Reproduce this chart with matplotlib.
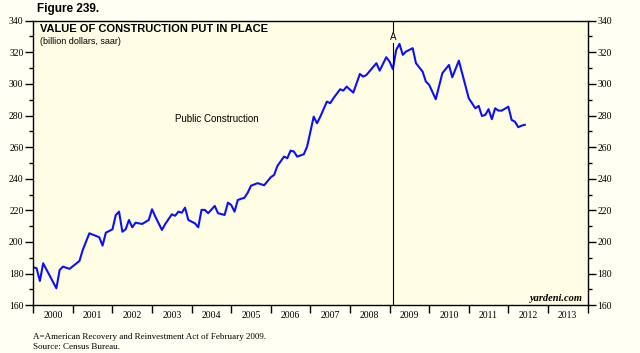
import numpy as np
import pandas as pd
import matplotlib
matplotlib.use("Agg")
from matplotlib import pyplot as plt
from matplotlib.ticker import MultipleLocator, FixedLocator, NullFormatter

# public construction put in place, billion dollars, saar (vertices)
months = ["2000-01", "2000-02", "2000-03", "2000-04", "2000-08", "2000-09", "2000-10", "2000-12",
          "2001-03", "2001-04", "2001-06", "2001-09", "2001-10", "2001-11",
          "2002-01", "2002-02", "2002-03", "2002-04", "2002-05", "2002-06", "2002-07", "2002-08",
          "2002-10", "2002-12",
          "2003-01", "2003-02", "2003-04", "2003-05", "2003-07", "2003-08", "2003-09", "2003-10",
          "2003-11", "2003-12",
          "2004-02", "2004-03", "2004-04", "2004-05", "2004-06", "2004-08", "2004-09", "2004-11",
          "2004-12",
          "2005-01", "2005-02", "2005-03", "2005-05", "2005-06", "2005-07", "2005-09", "2005-11",
          "2006-01", "2006-02", "2006-03", "2006-05", "2006-06", "2006-07", "2006-08", "2006-09",
          "2006-11", "2006-12",
          "2007-02", "2007-03", "2007-04", "2007-06", "2007-07", "2007-08", "2007-10", "2007-11",
          "2007-12",
          "2008-02", "2008-04", "2008-05", "2008-06", "2008-09", "2008-10", "2008-12",
          "2009-01", "2009-02", "2009-03", "2009-04", "2009-05", "2009-06", "2009-08", "2009-09",
          "2009-11", "2009-12",
          "2010-01", "2010-03", "2010-05", "2010-07", "2010-08", "2010-10",
          "2011-01", "2011-03", "2011-04", "2011-05", "2011-06", "2011-07", "2011-08", "2011-09",
          "2011-10", "2011-11",
          "2012-01", "2012-02", "2012-03", "2012-04", "2012-05", "2012-06"]
values = [184.0, 183.4, 175.3, 186.5, 170.7, 182.3, 184.4, 183.0,
          188.0, 195.0, 205.5, 203.0, 197.7, 205.9,
          208.0, 217.0, 219.2, 206.5, 208.0, 213.9, 209.3, 212.2,
          211.4, 213.9,
          220.7, 216.0, 207.6, 211.4, 217.5, 216.6, 219.2, 218.5,
          221.7, 213.9,
          211.8, 209.3, 220.3, 220.3, 218.2, 222.8, 218.2, 217.1,
          224.9,
          223.4, 219.2, 226.6, 228.0, 231.2, 235.6, 237.2, 235.9,
          241.0, 242.4, 248.1, 254.0, 253.0, 257.8, 257.2, 254.0,
          255.5, 260.3,
          279.3, 275.1, 279.3, 288.8, 287.8, 291.0, 296.6, 295.8,
          298.3,
          294.5, 306.3, 304.6, 305.7, 313.1, 308.4, 316.9,
          314.1, 309.3, 321.5, 325.3, 318.4, 320.5, 322.6, 313.1,
          307.8, 301.5,
          299.4, 290.3, 306.8, 312.0, 304.2, 314.7,
          290.9, 284.6, 286.1, 279.7, 280.4, 284.0, 277.7, 284.6,
          283.1, 283.1,
          285.6, 277.2, 276.1, 272.6, 273.6, 274.1]
assert len(months) == len(values)

years = list(range(2000, 2014))
event_month = "2009-02"  # A = American Recovery and Reinvestment Act

dates = pd.to_datetime(months)
t = dates.year + (dates.month - 1) / 12.0
ev = pd.Timestamp(event_month)
t_event = ev.year + (ev.month - 1) / 12.0

outer_bg = "#FFFFF3"
inner_bg = "#FFFDE3"
serif = "Liberation Serif"
sans = "Liberation Sans"

fig = plt.figure(figsize=(6.4, 3.53), dpi=100, facecolor=outer_bg)
ax = fig.add_axes([0.052, 0.1354, 0.866, 0.806])
ax.set_facecolor(inner_bg)

ax.plot(t, values, color="#0a10ff", lw=1.5, solid_joinstyle="round")

ax.set_xlim(years[0], years[-1] + 1)
ax.set_ylim(160, 340)

# y axis on both sides
ax.yaxis.set_major_locator(MultipleLocator(20))
ax.yaxis.set_minor_locator(MultipleLocator(10))
ax.tick_params(axis="y", which="both", direction="out", left=True, right=True,
               labelleft=True, labelright=True, labelsize=7, pad=1.5, colors="black")
ax.tick_params(axis="y", which="major", length=5.5, width=1)
ax.tick_params(axis="y", which="minor", length=3, width=1)
for lab in ax.get_yticklabels():
    lab.set_fontfamily(serif)

# x axis: ticks at year boundaries, labels centered in each year
ax.xaxis.set_major_locator(FixedLocator(years + [years[-1] + 1]))
ax.xaxis.set_major_formatter(NullFormatter())
ax.xaxis.set_minor_locator(FixedLocator([y + 0.5 for y in years]))
ax.set_xticklabels([str(y) for y in years], minor=True, fontfamily=serif, fontsize=7)
ax.tick_params(axis="x", which="major", direction="out", length=6, width=1)
ax.tick_params(axis="x", which="minor", length=0, pad=4)

for s in ax.spines.values():
    s.set_color("black")
    s.set_linewidth(1)

# event line
ax.axvline(t_event, color="black", lw=0.8)
ax.text(t_event, 329.5, "A", ha="center", va="center", fontsize=7, fontfamily=sans,
        bbox=dict(facecolor=inner_bg, edgecolor="none", pad=0.5))

ax.text(0.012, 0.971, "VALUE OF CONSTRUCTION PUT IN PLACE", transform=ax.transAxes,
        ha="left", va="center", fontsize=8, fontweight="bold", fontfamily=sans)
ax.text(0.012, 0.928, "(billion dollars, saar)", transform=ax.transAxes,
        ha="left", va="center", fontsize=6.5, fontfamily=sans)
ax.text(2003.58, 278, "Public Construction", ha="left", va="center",
        fontsize=7, fontfamily=sans)
ax.text(0.991, 0.008, "yardeni.com", transform=ax.transAxes, ha="right", va="bottom",
        fontsize=7.5, fontstyle="italic", fontweight="bold", fontfamily=serif)

fig.text(0.058, 0.975, "Figure 239.", ha="left", va="center", fontsize=8.5,
         fontweight="bold", fontfamily=sans)
fig.text(0.052, 0.045, "A=American Recovery and Reinvestment Act of February 2009.",
         ha="left", va="center", fontsize=6.5, fontfamily=serif)
fig.text(0.052, 0.017, "Source: Census Bureau.", ha="left", va="center",
         fontsize=6.5, fontfamily=serif)

fig.savefig("out.png", dpi=100, facecolor=outer_bg)
